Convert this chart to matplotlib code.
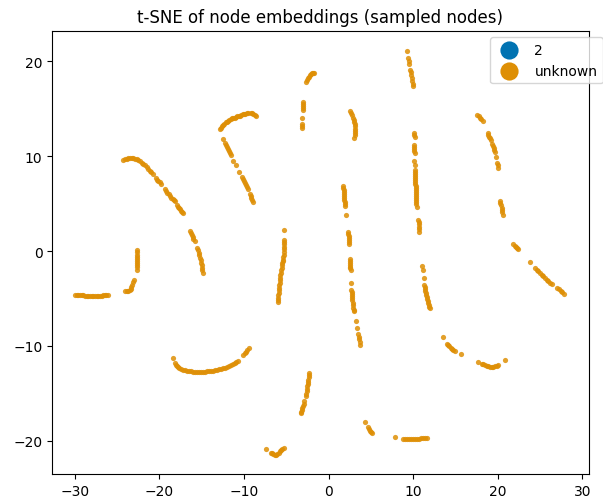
import numpy as np
import matplotlib
matplotlib.use('Agg')
import matplotlib.pyplot as plt

# kolory jak w palecie seaborn "colorblind"
KOLOR_2 = '#0173B2'
KOLOR_UNKNOWN = '#DE8F05'

# punkty klasy "2" - w probce nie widac zadnego
klasa_2 = []

# punkty klasy "unknown", pogrupowane wg skupisk
luk_lewy = [(-24.26, 9.59), (-24.06, 9.67), (-23.87, 9.73), (-23.67, 9.78), (-23.47, 9.80),
            (-23.28, 9.79), (-23.08, 9.77), (-22.88, 9.72), (-22.68, 9.66), (-22.48, 9.56),
            (-22.29, 9.45), (-22.10, 9.32), (-21.90, 9.17), (-21.70, 9.01), (-21.50, 8.85),
            (-21.30, 8.64), (-21.11, 8.43), (-20.95, 8.29), (-20.79, 8.15),
            (-20.40, 7.66), (-20.26, 7.52), (-20.12, 7.37), (-19.96, 7.23), (-19.81, 7.09),
            (-19.33, 6.49), (-19.20, 6.32), (-19.06, 6.14), (-18.90, 5.96), (-18.74, 5.79),
            (-18.58, 5.61), (-18.43, 5.44), (-18.31, 5.33), (-18.19, 5.23),
            (-17.88, 4.81), (-17.76, 4.66), (-17.64, 4.52), (-17.52, 4.38), (-17.40, 4.24),
            (-17.28, 4.10), (-17.17, 3.96),
            (-16.38, 2.09), (-16.28, 1.88), (-16.18, 1.67), (-16.08, 1.47), (-15.99, 1.28),
            (-15.83, 1.04),
            (-15.59, 0.33), (-15.48, 0.07), (-15.36, -0.19), (-15.28, -0.45), (-15.20, -0.72),
            (-15.12, -0.98), (-15.04, -1.25), (-15.00, -1.51), (-14.96, -1.78), (-14.92, -2.04),
            (-14.88, -2.31)]
haczyk_gorny = [(-12.83, 12.83), (-12.72, 13.01), (-12.60, 13.18), (-12.46, 13.31), (-12.32, 13.43),
                (-12.18, 13.54), (-12.05, 13.64), (-11.89, 13.73), (-11.73, 13.82), (-11.57, 13.89),
                (-11.42, 13.96), (-11.26, 14.01), (-11.10, 14.06), (-10.94, 14.12), (-10.78, 14.17),
                (-10.62, 14.22), (-10.47, 14.27), (-10.31, 14.33), (-10.15, 14.38), (-10.00, 14.43),
                (-9.84, 14.48), (-9.68, 14.54), (-9.52, 14.59), (-9.21, 14.59), (-9.05, 14.55),
                (-8.89, 14.48), (-8.73, 14.35), (-8.58, 14.17),
                (-12.44, 11.84),
                (-12.20, 11.35), (-12.10, 11.14), (-12.01, 10.93), (-11.91, 10.74), (-11.81, 10.54),
                (-11.69, 10.31), (-11.57, 10.08),
                (-11.26, 9.52), (-10.94, 9.03), (-10.55, 8.32),
                (-10.23, 7.76), (-10.12, 7.55), (-10.00, 7.34), (-9.88, 7.13), (-9.76, 6.92),
                (-9.64, 6.71), (-9.52, 6.49),
                (-9.29, 6.00), (-9.21, 5.80), (-9.13, 5.61), (-9.05, 5.38), (-8.97, 5.16)]
gora_srodek = [(-2.67, 17.83), (-2.56, 18.02), (-2.45, 18.20), (-2.33, 18.35), (-2.20, 18.50),
               (-2.08, 18.60), (-1.95, 18.70), (-1.83, 18.76), (-1.70, 18.80),
               (-2.98, 15.72), (-3.00, 15.50), (-3.02, 15.29), (-3.04, 15.08), (-3.06, 14.87),
               (-3.14, 13.99), (-3.14, 13.36), (-3.14, 13.15), (-3.14, 12.94)]
pion_srodek = [(-5.27, 2.17),
               (-5.23, 1.21), (-5.24, 0.95), (-5.25, 0.69), (-5.27, 0.43), (-5.28, 0.16),
               (-5.30, -0.10), (-5.31, -0.37), (-5.33, -0.63), (-5.35, -0.90), (-5.41, -1.07),
               (-5.47, -1.25), (-5.50, -1.51), (-5.54, -1.78), (-5.60, -2.04), (-5.66, -2.31),
               (-5.70, -2.57), (-5.74, -2.83), (-5.76, -3.10), (-5.78, -3.36), (-5.82, -3.62),
               (-5.86, -3.89), (-5.88, -4.15), (-5.90, -4.42), (-5.94, -4.68), (-5.98, -4.95),
               (-6.00, -5.17), (-6.02, -5.40)]
pion_lewy = [(-22.68, 0.09), (-22.68, -0.14), (-22.68, -0.37), (-22.66, -0.60), (-22.64, -0.83),
             (-22.64, -1.04), (-22.64, -1.25), (-22.62, -1.46), (-22.60, -1.67), (-22.60, -1.95),
             (-23.00, -3.01), (-23.10, -3.27), (-23.20, -3.54), (-23.30, -3.77), (-23.39, -3.99),
             (-23.53, -4.08), (-23.67, -4.17), (-23.85, -4.21), (-24.02, -4.24)]
poziom_lewy = [(-29.97, -4.59), (-29.78, -4.61), (-29.58, -4.63), (-29.38, -4.65), (-29.18, -4.66),
               (-28.99, -4.68), (-28.79, -4.70), (-28.60, -4.72), (-28.40, -4.73), (-28.20, -4.73),
               (-28.00, -4.73), (-27.80, -4.73), (-27.61, -4.73), (-27.41, -4.73), (-27.21, -4.73),
               (-27.02, -4.72), (-26.82, -4.70), (-26.62, -4.67), (-26.43, -4.63), (-26.27, -4.61),
               (-26.11, -4.59)]
misa_lewa = [(-18.35, -11.32),
             (-18.19, -11.81), (-18.08, -11.99), (-17.96, -12.16), (-17.80, -12.27), (-17.64, -12.37),
             (-17.45, -12.44), (-17.25, -12.51), (-17.01, -12.57), (-16.77, -12.62), (-16.54, -12.66),
             (-16.30, -12.69), (-16.07, -12.71), (-15.83, -12.72), (-15.59, -12.72), (-15.35, -12.72),
             (-15.12, -12.72), (-14.88, -12.72), (-14.65, -12.71), (-14.41, -12.69), (-14.18, -12.67),
             (-13.94, -12.65), (-13.70, -12.62), (-13.46, -12.58), (-13.23, -12.53), (-12.99, -12.48),
             (-12.76, -12.43), (-12.52, -12.37), (-12.29, -12.30), (-12.05, -12.23), (-11.81, -12.15),
             (-11.57, -12.06), (-11.34, -11.95), (-11.10, -11.84), (-10.90, -11.74), (-10.71, -11.63),
             (-10.08, -10.96), (-9.92, -10.79), (-9.76, -10.61), (-9.60, -10.44), (-9.45, -10.26)]
dol_srodek = [(-2.27, -12.80), (-2.31, -13.05), (-2.35, -13.29), (-2.39, -13.54), (-2.43, -13.78),
              (-2.47, -14.03), (-2.51, -14.27), (-2.55, -14.52), (-2.59, -14.77), (-2.65, -15.02),
              (-2.71, -15.26),
              (-2.86, -15.82), (-2.94, -16.07), (-3.02, -16.32), (-3.10, -16.53), (-3.18, -16.74),
              (-3.24, -16.92), (-3.30, -17.09)]
dol_v = [(-7.40, -20.89),
         (-6.84, -21.24), (-6.68, -21.33), (-6.53, -21.42), (-6.37, -21.47), (-6.21, -21.52),
         (-6.05, -21.38), (-5.90, -21.24), (-5.74, -21.10), (-5.58, -20.96), (-5.45, -20.86),
         (-5.31, -20.75)]
krotki_3 = [(2.53, 14.77), (2.65, 14.54), (2.77, 14.31), (2.88, 14.06), (3.00, 13.82),
            (3.06, 13.59), (3.12, 13.36), (3.14, 13.13), (3.16, 12.90), (3.14, 12.65),
            (3.12, 12.41), (3.08, 12.18), (3.04, 11.95)]
gora_10 = [(9.23, 21.10),
           (9.43, 20.29), (9.49, 19.99), (9.54, 19.69),
           (9.66, 19.10), (9.72, 18.81), (9.78, 18.53), (9.84, 18.23), (9.90, 17.93),
           (9.96, 17.63), (10.02, 17.34)]
pion_10 = [(10.13, 12.48), (10.15, 12.27), (10.17, 12.06),
           (10.13, 11.14), (10.13, 10.93), (10.13, 10.72), (10.15, 10.51), (10.17, 10.30),
           (10.13, 9.49), (10.17, 9.03),
           (10.21, 8.54), (10.21, 8.32), (10.21, 8.11), (10.23, 7.90), (10.25, 7.69),
           (10.25, 7.48), (10.25, 7.27), (10.27, 7.06), (10.29, 6.85), (10.29, 6.63),
           (10.29, 6.42), (10.31, 6.21), (10.33, 6.00), (10.33, 5.79), (10.33, 5.58),
           (10.35, 5.37), (10.37, 5.16), (10.39, 4.91), (10.41, 4.66),
           (10.61, 3.26), (10.63, 3.03), (10.65, 2.80), (10.67, 2.57), (10.69, 2.34),
           (10.73, 1.99),
           (11.08, -1.53), (11.16, -2.02), (11.24, -2.83),
           (11.32, -3.54), (11.36, -3.77), (11.40, -3.99), (11.43, -4.20), (11.47, -4.42),
           (11.53, -4.63), (11.59, -4.84), (11.65, -5.07), (11.71, -5.30), (11.77, -5.50),
           (11.83, -5.69), (11.90, -5.87), (11.98, -6.04)]
pion_2 = [(1.74, 6.85), (1.76, 6.63), (1.78, 6.42), (1.80, 6.21), (1.82, 6.00), (1.84, 5.79),
          (1.86, 5.58), (1.88, 5.37), (1.90, 5.16), (1.92, 4.95), (1.94, 4.73),
          (2.06, 3.75),
          (2.33, 1.99), (2.35, 1.78), (2.37, 1.57), (2.39, 1.36), (2.41, 1.15), (2.43, 0.92),
          (2.45, 0.69),
          (2.53, -0.83), (2.55, -1.04), (2.57, -1.25), (2.57, -1.46), (2.57, -1.67), (2.59, -1.83),
          (2.61, -2.00),
          (2.65, -3.36),
          (2.69, -4.07), (2.71, -4.28), (2.73, -4.49), (2.75, -4.72), (2.77, -4.95), (2.80, -5.21),
          (2.84, -5.47), (2.88, -5.73), (2.92, -6.00), (2.96, -6.18), (3.00, -6.35),
          (3.20, -7.41), (3.36, -8.11),
          (3.51, -8.75), (3.57, -9.01), (3.63, -9.28), (3.69, -9.57), (3.75, -9.87)]
luk_prawy = [(17.58, 14.31), (17.74, 14.17), (17.90, 14.03), (18.05, 13.86), (18.21, 13.68),
             (18.80, 12.41), (18.90, 12.24), (19.00, 12.06), (19.08, 11.89), (19.16, 11.71),
             (19.35, 11.28), (19.43, 11.07), (19.51, 10.86), (19.59, 10.65), (19.67, 10.44),
             (19.75, 9.91),
             (19.95, 9.24), (20.00, 9.01), (20.06, 8.78),
             (20.26, 5.26), (20.32, 5.03), (20.38, 4.80), (20.44, 4.55), (20.50, 4.31),
             (20.55, 4.06), (20.61, 3.82)]
skos_prawy = [(21.84, 0.69), (22.00, 0.56), (22.15, 0.44), (22.29, 0.30), (22.43, 0.16),
              (23.81, -1.18),
              (24.40, -1.78), (24.60, -1.95), (24.79, -2.13), (24.98, -2.30), (25.18, -2.48),
              (25.38, -2.65), (25.58, -2.83), (25.78, -3.01), (25.97, -3.19), (26.17, -3.33),
              (26.37, -3.47),
              (27.04, -3.89), (27.24, -4.03), (27.43, -4.17), (27.63, -4.33), (27.83, -4.49)]
skos_dol = [(13.48, -9.06),
            (13.96, -9.77), (14.12, -9.91), (14.27, -10.05), (14.43, -10.18), (14.59, -10.30),
            (14.75, -10.41), (14.90, -10.51),
            (15.61, -10.86)]
misa_prawa = [(17.62, -11.67),
              (18.09, -11.88), (18.29, -11.95), (18.49, -12.02), (18.69, -12.08), (18.88, -12.13),
              (19.08, -12.17), (19.28, -12.20), (19.48, -12.18), (19.67, -12.16), (19.87, -12.11),
              (20.06, -12.06),
              (20.85, -11.46)]
dol_5 = [(4.30, -18.00),
         (4.62, -18.57), (4.76, -18.76), (4.89, -18.92), (5.01, -19.03), (5.13, -19.13)]
dol_10 = [(7.85, -19.55),
          (8.75, -19.76), (8.99, -19.78), (9.23, -19.80), (9.47, -19.80), (9.70, -19.80),
          (9.94, -19.80), (10.17, -19.80), (10.41, -19.78), (10.65, -19.76), (10.89, -19.75),
          (11.12, -19.73), (11.36, -19.71), (11.59, -19.69)]

skupiska = [luk_lewy, haczyk_gorny, gora_srodek, pion_srodek, pion_lewy, poziom_lewy,
            misa_lewa, dol_srodek, dol_v, krotki_3, gora_10, pion_10, pion_2, luk_prawy,
            skos_prawy, skos_dol, misa_prawa, dol_5, dol_10]


def rysuj():
    fig = plt.figure(figsize=(6.03, 5.02), dpi=100)
    ax = fig.add_axes([0.0867, 0.0538, 0.8895, 0.8831])

    unknown = np.array([p for grupa in skupiska for p in grupa])
    k2 = np.array(klasa_2).reshape(-1, 2)

    ax.scatter(k2[:, 0], k2[:, 1], s=14, c=KOLOR_2, alpha=0.85, linewidths=0, label='2')
    ax.scatter(unknown[:, 0], unknown[:, 1], s=14, c=KOLOR_UNKNOWN, alpha=0.85,
               linewidths=0, label='unknown')

    ax.set_xlim(-32.66, 30.74)
    ax.set_ylim(-23.49, 23.21)
    ax.set_title('t-SNE of node embeddings (sampled nodes)', fontsize=12)

    leg = ax.legend(loc='upper left', bbox_to_anchor=(490 / 603, 1 - 38.3 / 502),
                    bbox_transform=fig.transFigure, borderaxespad=0, markerscale=3.5)
    for h in leg.legend_handles:
        h.set_alpha(1)

    fig.savefig('out.png', dpi=100)


if __name__ == '__main__':
    rysuj()
